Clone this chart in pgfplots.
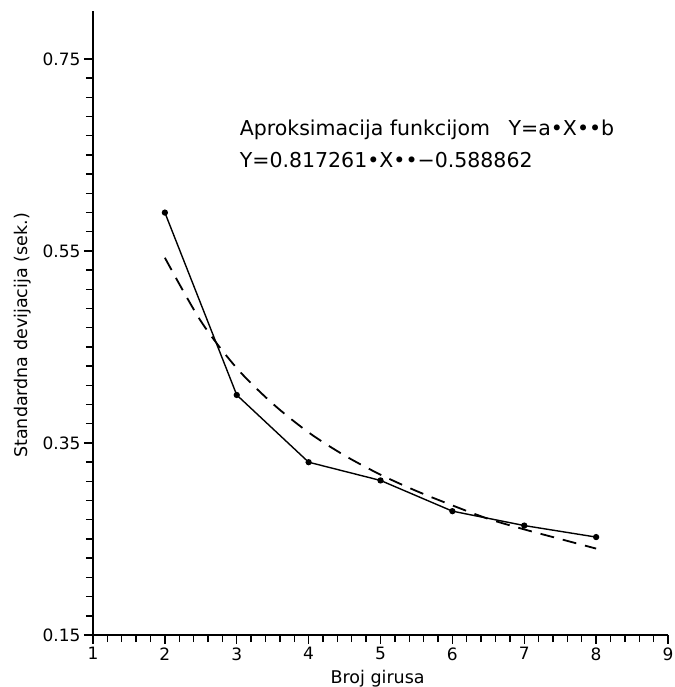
\documentclass[border=0pt]{standalone}
\usepackage{pgfplots}
\pgfplotsset{compat=1.18}
\usepackage{fontspec}
\setmainfont{DejaVu Sans}

\begin{document}
\begin{tikzpicture}
\begin{axis}[
    scale only axis,
    width=575pt, height=624pt,
    xmin=1, xmax=9,
    ymin=0.15, ymax=0.80,
    axis lines*=left,
    axis line style={line width=1.5pt},
    tick align=outside,
    major tick length=9pt,
    minor tick length=7pt,
    every tick/.style={line width=1.4pt, black},
    xtick={1,2,3,4,5,6,7,8,9},
    xticklabels={1,2,3,4,5,6,7,8,9},
    minor x tick num=4,
    ytick={0.15,0.35,0.55,0.75},
    yticklabels={0.15,0.35,0.55,0.75},
    minor y tick num=9,
    ticklabel style={font=\fontsize{17}{19}\selectfont},
    xlabel={Broj girusa},
    ylabel={Standardna devijacija (sek.)},
    every axis x label/.style={at={(axis description cs:0.495,0)}, anchor=base, yshift=-48pt,
        font=\fontsize{17.5}{19}\selectfont},
    every axis y label/.style={at={(axis description cs:-0.1217,0.48)}, anchor=center, rotate=90,
        font=\fontsize{17.5}{19}\selectfont},
    clip=false,
]
% measured points
\addplot[black, line width=1.4pt, mark=*, mark size=2.4pt] coordinates {
    (2,0.590) (3,0.400) (4,0.330) (5,0.311) (6,0.279) (7,0.264) (8,0.252)
};
% fitted curve
\addplot[black, line width=1.8pt, dash pattern=on 14pt off 9pt, smooth] coordinates {
    (2,0.543) (2.5,0.477) (3,0.428) (3.5,0.391) (4,0.361) (4.5,0.337)
    (5,0.317) (5.5,0.300) (6,0.285) (6.5,0.271) (7,0.260) (7.5,0.250) (8,0.240)
};
\node[anchor=west, font=\fontsize{20.5}{22}\selectfont, inner sep=0pt] at (axis cs:3.04,0.676)
    {Aproksimacija funkcijom\hspace{0.9em}Y=a•X••b};
\node[anchor=west, font=\fontsize{20.5}{22}\selectfont, inner sep=0pt] at (axis cs:3.04,0.645)
    {Y=0.817261•X••−0.588862};
\end{axis}
\pgfresetboundingbox
\path[use as bounding box] (-93pt,-52pt) rectangle (581pt,635pt);
\end{tikzpicture}
\end{document}
